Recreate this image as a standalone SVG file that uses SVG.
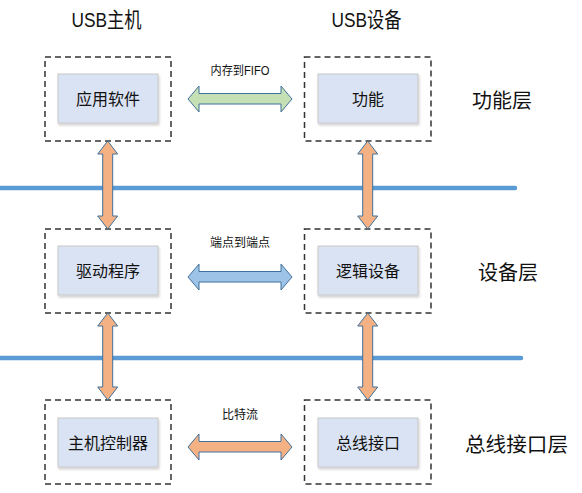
<svg xmlns="http://www.w3.org/2000/svg" width="582" height="493" viewBox="0 0 582 493">
<defs>
<filter id="sh" x="-10%" y="-10%" width="130%" height="140%">
<feDropShadow dx="1" dy="2" stdDeviation="1.2" flood-color="#000" flood-opacity="0.18"/>
</filter>
</defs>
<style>
text{font-family:"Liberation Sans","Noto Sans CJK SC",sans-serif;fill:#111;text-anchor:middle}
.dash{fill:#fff;stroke:#333;stroke-width:1.5;stroke-dasharray:6 4}
.inner{fill:#DAE3F3;stroke:#C8C8C8;stroke-width:1}
.t16{font-size:16px}
.t12{font-size:12px}
.title{font-size:21px}
.layer{font-size:20px;text-anchor:start}
.bus{stroke:#5B9BD5;stroke-width:4.5;stroke-linecap:round;fill:none}
.arr{stroke:#41719C;stroke-width:1;stroke-linejoin:miter}
.orange{fill:#F4B183}
.green{fill:#C5E0B4}
.blue{fill:#9DC3E6}
</style>
<g id="bus-lines">
<line class="bus" x1="-5" y1="188" x2="515" y2="188"/>
<line class="bus" x1="-5" y1="358" x2="521" y2="358"/>
</g>
<text class="title" x="106.5" y="27" textLength="70" lengthAdjust="spacingAndGlyphs">USB主机</text>
<text class="title" x="366.5" y="27" textLength="70" lengthAdjust="spacingAndGlyphs">USB设备</text>
<text class="layer" x="472" y="108">功能层</text>
<text class="layer" x="478" y="280">设备层</text>
<text class="layer" x="465" y="452" textLength="103" lengthAdjust="spacingAndGlyphs">总线接口层</text>
<g id="host-app">
<rect class="dash" x="45" y="57" width="126" height="84"/>
<rect class="inner" x="58" y="74" width="100" height="49" filter="url(#sh)"/>
<text class="t16" x="108" y="105">应用软件</text>
</g>
<g id="dev-func">
<rect class="dash" x="304.5" y="57" width="126.5" height="84"/>
<rect class="inner" x="318" y="74" width="100" height="49" filter="url(#sh)"/>
<text class="t16" x="368" y="105">功能</text>
</g>
<g id="host-driver">
<rect class="dash" x="45" y="229" width="126" height="84"/>
<rect class="inner" x="58" y="246" width="100" height="49" filter="url(#sh)"/>
<text class="t16" x="108" y="277">驱动程序</text>
</g>
<g id="dev-logic">
<rect class="dash" x="304.5" y="229" width="126.5" height="84"/>
<rect class="inner" x="318" y="246" width="100" height="49" filter="url(#sh)"/>
<text class="t16" x="368" y="277">逻辑设备</text>
</g>
<g id="host-ctrl">
<rect class="dash" x="45" y="400" width="126" height="84"/>
<rect class="inner" x="58" y="418" width="100" height="49" filter="url(#sh)"/>
<text class="t16" x="108" y="449">主机控制器</text>
</g>
<g id="dev-bus">
<rect class="dash" x="304.5" y="400" width="126.5" height="84"/>
<rect class="inner" x="318" y="418" width="100" height="49" filter="url(#sh)"/>
<text class="t16" x="368" y="449">总线接口</text>
</g>
<g id="connectors">
<polygon class="arr orange" points="107.7,141 117.7,154 112.7,154 112.7,216 117.7,216 107.7,229 97.7,216 102.7,216 102.7,154 97.7,154"/>
<polygon class="arr orange" points="367.7,141 377.7,154 372.7,154 372.7,216 377.7,216 367.7,229 357.7,216 362.7,216 362.7,154 357.7,154"/>
<polygon class="arr orange" points="107.7,313 117.7,326 112.7,326 112.7,387 117.7,387 107.7,400 97.7,387 102.7,387 102.7,326 97.7,326"/>
<polygon class="arr orange" points="367.7,313 377.7,326 372.7,326 372.7,387 377.7,387 367.7,400 357.7,387 362.7,387 362.7,326 357.7,326"/>
<polygon class="arr green" points="188,99 199,86 199,93.5 281,93.5 281,86 292,99 281,112 281,104 199,104 199,112"/>
<polygon class="arr blue" points="188,277 199,264 199,271.5 281,271.5 281,264 292,277 281,290 281,282 199,282 199,290"/>
<polygon class="arr orange" points="188,447 199,434 199,441.5 281,441.5 281,434 292,447 281,460 281,452 199,452 199,460"/>
<text class="t12" x="240" y="75" textLength="59" lengthAdjust="spacingAndGlyphs">内存到FIFO</text>
<text class="t12" x="240" y="247">端点到端点</text>
<text class="t12" x="240" y="419">比特流</text>
</g>
</svg>
